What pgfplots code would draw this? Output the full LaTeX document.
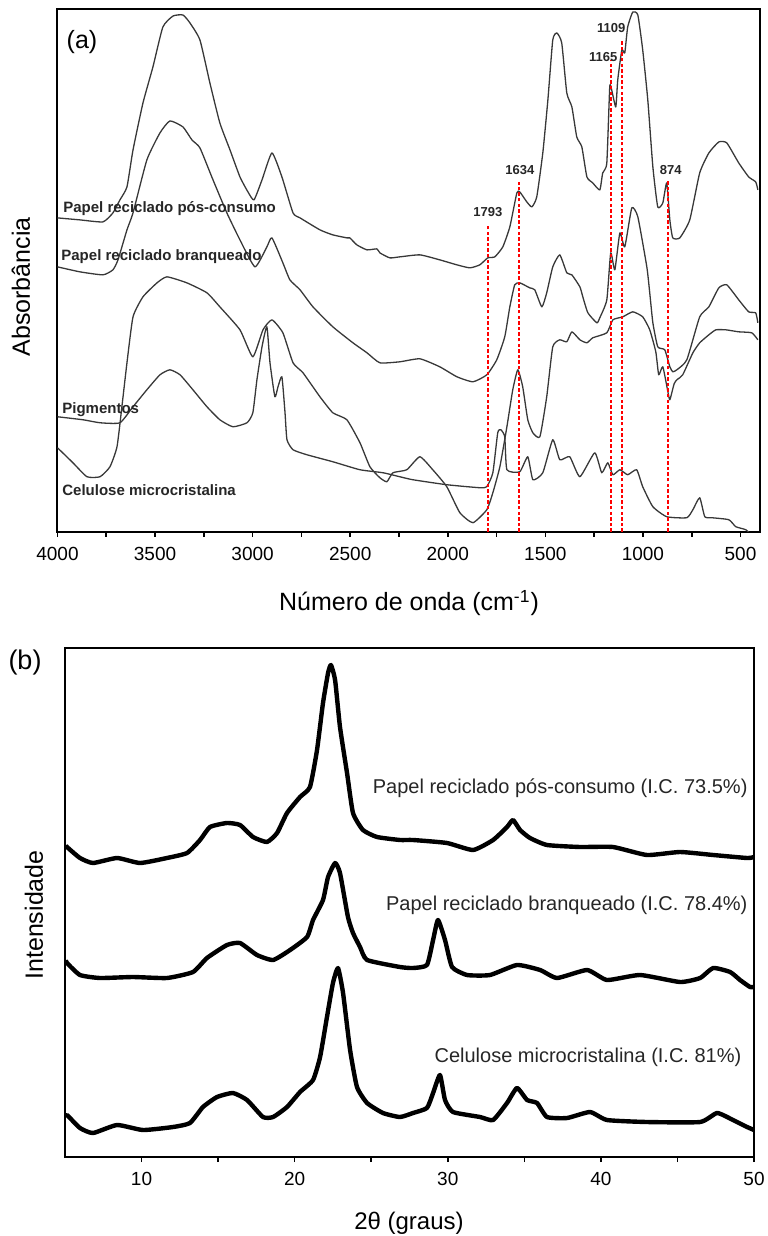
\documentclass[border=0pt]{standalone}
\usepackage{fontspec}
\setmainfont{Liberation Sans}
\usepackage{pgfplots}
\pgfplotsset{compat=1.18}

\pgfplotsset{
  panel/.style={
    scale only axis, anchor=south west,
    ytick=\empty, tick align=outside, xtick pos=bottom,
    major tick length=2.6pt, minor tick length=2.6pt,
    axis line style={line width=1pt},
    every tick/.style={black, line width=0.8pt},
    xticklabel style={font=\fontsize{9.5}{10}\selectfont, yshift=-1.5pt},
    /pgf/number format/assume math mode=true,
    /pgf/number format/set thousands separator={},
  },
  ftir/.style={black!78, line width=0.65pt, line join=round, smooth, tension=0.3},
  xrd/.style={black, line width=2.2pt, line join=round, smooth, tension=0.3},
  bandline/.style={draw=red, color=red, line width=1pt, dash pattern=on 1.7pt off 1.1pt},
}

\begin{document}
\begin{tikzpicture}
\useasboundingbox (0,0) rectangle (383.5pt,-618pt);

% ---- (a) FTIR
\begin{axis}[panel,
  at={(28.75pt,-265.85pt)}, width=351.25pt, height=261.35pt,
  xmin=400, xmax=4000, x dir=reverse, ymin=0, ymax=523,
  xtick={500,1000,...,4000}, minor xtick={750,1250,...,3750},
]
% papel reciclado pos-consumo
\addplot[ftir] coordinates {
(4000,314) (3885,312) (3767,310) (3716,319) (3680,332) (3644,345) (3613,382)
(3562,429) (3511,465) (3460,505) (3408,516) (3357,517) (3321,509) (3270,492)
(3219,449) (3168,409) (3116,382) (3065,355) (3024,340) (2993,332) (2952,352)
(2901,379) (2850,355) (2793,319) (2757,314) (2655,302) (2589,297) (2517,294)
(2502,294) (2466,287) (2414,282) (2363,283) (2348,279) (2297,274) (2246,275)
(2143,277) (2041,272) (1953,267) (1887,264) (1836,267) (1795,274) (1759,275)
(1718,285) (1682,305) (1646,339) (1631,340) (1595,330) (1569,325) (1544,335)
(1513,379) (1487,432) (1462,492) (1441,499) (1416,489) (1390,439) (1364,425)
(1339,395) (1313,385) (1287,355) (1257,349) (1221,342) (1206,359) (1185,369)
(1170,445) (1160,442) (1139,425) (1129,452) (1108,482) (1093,479) (1078,505)
(1052,520) (1026,517) (1001,482) (975,432) (949,365) (924,325) (898,329)
(878,349) (862,312) (847,294) (811,294) (760,312) (709,359) (662,379)
(611,390) (570,389) (509,369) (458,355) (422,350) (411,342)
};
% papel reciclado branqueado
\addplot[ftir] coordinates {
(4000,265) (3885,260) (3767,257) (3716,262) (3690,272) (3644,302) (3613,319)
(3542,372) (3475,399) (3424,411) (3357,405) (3311,392) (3270,384) (3203,352)
(3132,319) (3065,292) (2988,265) (2927,285) (2901,294) (2845,269) (2809,252)
(2757,242) (2691,225) (2589,205) (2486,189) (2414,179) (2348,169) (2246,170)
(2143,173) (2041,165) (1953,155) (1871,150) (1800,157) (1749,172) (1708,195)
(1682,225) (1657,247) (1631,249) (1580,244) (1554,242) (1518,225) (1493,239)
(1462,265) (1426,277) (1390,259) (1364,257) (1323,245) (1308,235) (1282,219)
(1236,209) (1221,214) (1185,232) (1165,279) (1144,262) (1118,299) (1093,285)
(1057,324) (1026,315) (980,265) (965,239) (949,209) (924,185) (888,182)
(862,165) (847,160) (826,162) (775,172) (709,215) (662,225) (611,244)
(570,247) (509,232) (458,220) (422,219) (411,209)
};
% pigmentos
\addplot[ftir] coordinates {
(4000,115) (3869,112) (3782,109) (3680,109) (3613,125) (3542,142) (3475,157)
(3424,162) (3372,157) (3306,142) (3234,125) (3168,112) (3101,105) (3029,109)
(2999,119) (2978,152) (2952,185) (2927,205) (2911,169) (2886,135) (2870,145)
(2850,155) (2834,119) (2824,92) (2793,82) (2722,77) (2589,70) (2450,62)
(2332,59) (2246,55) (2179,52) (2005,47) (1836,44) (1800,45) (1769,59)
(1744,99) (1728,102) (1708,95) (1697,62) (1631,60) (1590,75) (1564,52)
(1513,59) (1462,92) (1426,72) (1375,75) (1323,55) (1247,79) (1211,59)
(1180,69) (1154,57) (1118,62) (1078,57) (1032,62) (1001,45) (949,25)
(878,15) (775,14) (744,22) (709,34) (683,15) (647,14) (560,12) (524,5)
(473,2) (440,-4)
};
% celulose microcristalina
\addplot[ftir] coordinates {
(4000,84) (3921,69) (3849,55) (3782,55) (3731,65) (3695,85) (3670,125)
(3644,169) (3613,215) (3562,235) (3490,249) (3439,255) (3337,249) (3234,239)
(3168,225) (3065,202) (2999,175) (2947,202) (2901,212) (2845,199) (2793,169)
(2742,159) (2655,135) (2589,119) (2517,112) (2450,89) (2399,65) (2348,54)
(2312,50) (2281,59) (2210,62) (2143,75) (2077,62) (2005,45) (1938,19)
(1871,9) (1800,22) (1769,39) (1733,65) (1697,105) (1667,142) (1641,162)
(1616,145) (1590,112) (1564,99) (1528,95) (1493,135) (1462,185) (1426,192)
(1390,190) (1364,200) (1323,192) (1287,189) (1257,194) (1185,199) (1154,212)
(1103,215) (1052,220) (1001,215) (965,202) (934,180) (919,157) (898,165)
(872,140) (862,132) (840,148) (826,152) (796,157) (744,179) (709,189)
(662,197) (626,202) (575,202) (509,200) (442,199) (411,192)
};
% marked bands
\addplot[bandline] coordinates {(1793,0) (1793,306)};
\addplot[bandline] coordinates {(1634,0) (1634,350)};
\addplot[bandline] coordinates {(1165,0) (1165,472)};
\addplot[bandline] coordinates {(1109,0) (1109,492)};
\addplot[bandline] coordinates {(874,0) (874,352)};
\begin{scope}[every node/.style={font=\fontsize{6.5}{7}\selectfont\bfseries, text=black!85, inner sep=0pt}]
\node at (axis cs:1795,320) {1793};
\node at (axis cs:1631,362) {1634};
\node at (axis cs:1203,475) {1165};
\node at (axis cs:1162,504) {1109};
\node at (axis cs:857,362) {874};
\end{scope}
\begin{scope}[every node/.style={font=\fontsize{7.5}{8}\selectfont\bfseries, text=black!85, anchor=west, inner sep=0pt}]
\node at (axis cs:3972,323) {Papel reciclado pós-consumo};
\node at (axis cs:3982,275) {Papel reciclado branqueado};
\node at (axis cs:3977,122) {Pigmentos};
\node at (axis cs:3977,42) {Celulose microcristalina};
\end{scope}
\end{axis}

% ---- (b) XRD
\begin{axis}[panel,
  at={(32.5pt,-578.5pt)}, width=344.5pt, height=254.65pt,
  xmin=5, xmax=50, ymin=0, ymax=509.3,
  xtick={10,20,...,50}, minor xtick={15,25,35,45},
]
% papel reciclado pos-consumo
\addplot[xrd] coordinates {
(5.05,312) (5.13,310) (5.98,299) (6.83,294) (8.40,299) (9.90,294) (11.66,299)
(12.97,304) (13.82,317) (14.47,330) (15.58,334) (16.43,332) (17.28,320)
(18.19,315) (18.85,324) (19.50,344) (20.35,360) (21.00,370) (21.46,407)
(21.85,454) (22.18,484) (22.37,492) (22.64,477) (22.96,430) (23.42,384)
(23.81,344) (24.46,327) (25.38,320) (26.88,317) (27.73,317) (29.95,314)
(31.65,307) (32.96,317) (33.87,330) (34.26,337) (34.72,327) (35.37,319)
(36.48,312) (38.64,310) (40.79,310) (43.01,302) (45.17,305) (47.33,302)
(49.55,299) (50,300)
};
% papel reciclado branqueado
\addplot[xrd] coordinates {
(5.05,197) (5.13,194) (5.98,182) (7.29,179) (9.44,180) (11.66,179) (13.36,185)
(14.27,199) (15.58,212) (16.43,214) (17.54,202) (18.59,197) (19.70,207)
(20.81,220) (21.20,237) (21.85,257) (22.18,280) (22.64,294) (22.96,284)
(23.48,240) (23.81,224) (24.27,210) (24.73,197) (26.88,190) (27.73,189)
(28.64,192) (29.04,217) (29.36,237) (29.82,217) (30.28,190) (31.26,182)
(32.76,182) (34.52,192) (36.03,187) (37.14,179) (39.10,187) (40.40,177)
(42.56,182) (45.17,175) (46.48,179) (47.33,189) (48.44,185) (49.09,177)
(49.74,170) (50,170)
};
% celulose microcristalina
\addplot[xrd] coordinates {
(5.05,40) (5.13,42) (5.98,29) (6.83,24) (8.40,32) (10.09,27) (12.05,30)
(13.16,34) (14.01,50) (14.93,60) (15.97,64) (16.89,57) (17.93,40) (18.59,40)
(19.50,50) (20.35,65) (21.20,77) (21.66,100) (22.11,140) (22.50,174)
(22.83,189) (23.16,164) (23.62,107) (24.07,70) (24.73,54) (25.77,44)
(26.88,40) (27.73,44) (28.64,49) (29.04,64) (29.49,82) (29.82,57) (30.34,45)
(32.11,40) (32.96,37) (33.87,54) (34.52,69) (35.18,57) (35.83,54) (36.48,40)
(37.79,39) (39.29,45) (40.40,37) (43.01,35) (46.48,35) (47.59,44) (48.63,37)
(49.55,30) (50,27)
};
\begin{scope}[every node/.style={font=\fontsize{10}{11}\selectfont, text=black!85, anchor=east, inner sep=0pt}]
\node at (axis cs:49.6,369) {Papel reciclado pós-consumo (I.C. 73.5\%)};
\node at (axis cs:49.6,252) {Papel reciclado branqueado (I.C. 78.4\%)};
\node at (axis cs:49.2,100) {Celulose microcristalina (I.C. 81\%)};
\end{scope}
\end{axis}

% titles and axis names
\node[font=\fontsize{12.5}{14}\selectfont] at (41pt,-21pt) {(a)};
\node[font=\fontsize{13.5}{15}\selectfont] at (12.5pt,-331.5pt) {(b)};
\node[rotate=90, font=\fontsize{12.5}{14}\selectfont] at (10.5pt,-143.5pt) {Absorbância};
\node[rotate=90, font=\fontsize{12.5}{14}\selectfont] at (17pt,-457.5pt) {Intensidade};
\node[font=\fontsize{12.5}{14}\selectfont] at (204.5pt,-301.5pt) {Número de onda (cm\textsuperscript{-1})};
\node[font=\fontsize{12}{14}\selectfont] at (204.5pt,-611.5pt) {2θ (graus)};
\end{tikzpicture}
\end{document}
